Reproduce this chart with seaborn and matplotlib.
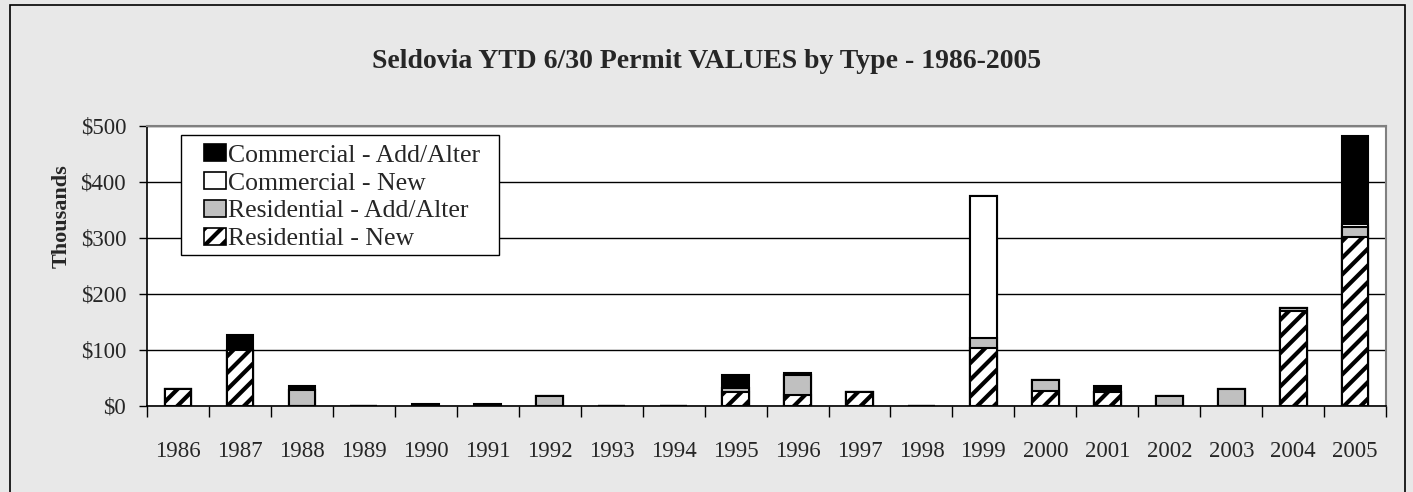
import matplotlib
matplotlib.use("Agg")
import matplotlib.pyplot as plt
import matplotlib.patches as mpatches
import numpy as np
import pandas as pd
import seaborn as sns

# values in $ thousands, YTD 6/30
years = [str(y) for y in range(1986, 2006)]
res_new = [30, 100, 0, 0, 0, 0, 0, 0, 0, 25, 20, 25, 0, 104, 27, 25, 0, 0, 170, 302]
res_add = [0, 0, 28, 0, 0, 0, 18, 0, 0, 7, 35, 0, 0, 18, 19, 0, 18, 30, 5, 17]
com_new = [0, 0, 0, 0, 0, 0, 0, 0, 0, 0, 0, 0, 0, 252, 0, 0, 0, 0, 0, 5]
com_add = [0, 27, 8, 0, 3, 3, 0, 0, 0, 23, 4, 0, 0, 0, 0, 10, 0, 0, 0, 158]

labels = ['Commercial - Add/Alter', 'Commercial - New',
          'Residential - Add/Alter', 'Residential - New']

sns.set_theme(style='white')
plt.rcParams['font.family'] = ['Liberation Serif', 'DejaVu Serif']
plt.rcParams['hatch.linewidth'] = 3
plt.rcParams['hatch.color'] = 'black'

df = pd.DataFrame({'year': years, 'res_new': res_new, 'res_add': res_add,
                   'com_new': com_new, 'com_add': com_add})
# cumulative levels, drawn tallest first so the shorter ones sit on top
df['lvl1'] = df['res_new']
df['lvl2'] = df['lvl1'] + df['res_add']
df['lvl3'] = df['lvl2'] + df['com_new']
df['lvl4'] = df['lvl3'] + df['com_add']

fig = plt.figure(figsize=(14.13, 4.92), dpi=100, facecolor='#e8e8e8')
ax = fig.add_axes([0.104, 0.175, 0.877, 0.569])
ax.set_facecolor('white')

layers = [('lvl4', 'black', ''), ('lvl3', 'white', ''),
          ('lvl2', '#c0c0c0', ''), ('lvl1', 'white', '//')]
for col, color, hatch in layers:
    sns.barplot(data=df, x='year', y=col, color=color, hatch=hatch,
                edgecolor='black', linewidth=1.5, width=0.43, saturation=1,
                errorbar=None, ax=ax)

ax.set_axisbelow(True)
ax.yaxis.grid(True, color='black', lw=1)
ax.set_ylim(0, 500)
ax.set_xlim(-0.5, 19.5)
ax.set_yticks(range(0, 501, 100))
ax.set_yticklabels(['$%d' % v for v in range(0, 501, 100)], fontsize=16.5)
ax.set_xticks(range(20))
ax.set_xticklabels(years, fontsize=16.5)
ax.set_xticks(np.arange(-0.5, 20, 1), minor=True)
ax.tick_params(axis='x', which='major', length=0, pad=25)
ax.tick_params(axis='x', which='minor', bottom=True, length=8, width=1, color='black')
ax.tick_params(axis='y', left=True, length=6, width=1, color='black', pad=9)
ax.set_xlabel('')
ax.set_ylabel('')

for side in ['left', 'bottom']:
    ax.spines[side].set_color('black')
    ax.spines[side].set_linewidth(1.2)
for side in ['top', 'right']:
    ax.spines[side].set_color('#808080')
    ax.spines[side].set_linewidth(1.5)

# legend box drawn separately so the inner margins match the original
ax.add_patch(mpatches.Rectangle((0.0274, 0.539), 0.2567, 0.4286,
                                transform=ax.transAxes, facecolor='white',
                                edgecolor='black', lw=1, zorder=4))
handles = [mpatches.Patch(facecolor='black', edgecolor='black', lw=1.2),
           mpatches.Patch(facecolor='white', edgecolor='black', lw=1.2),
           mpatches.Patch(facecolor='#c0c0c0', edgecolor='black', lw=1.2),
           mpatches.Patch(facecolor='white', edgecolor='black', lw=1.2, hatch='//')]
leg = ax.legend(handles, labels, loc='upper left', bbox_to_anchor=(0.046, 0.935),
                fontsize=18.5, frameon=False, handlelength=0.86,
                handleheight=0.66, handletextpad=0.08, labelspacing=0.2,
                borderpad=0, borderaxespad=0)
leg.set_zorder(5)

fig.text(0.5, 0.874, 'Seldovia YTD 6/30 Permit VALUES by Type - 1986-2005',
         ha='center', va='center', fontsize=20, fontweight='bold')
fig.text(0.044, 0.56, 'Thousands', rotation=90, ha='center', va='center',
         fontsize=16, fontweight='bold')

fig.patches.append(mpatches.Rectangle((0.007, -0.05), 0.987, 1.04,
                                      transform=fig.transFigure, fill=False,
                                      edgecolor='black', lw=1.2))

fig.savefig('out.png', dpi=100, facecolor=fig.get_facecolor())
